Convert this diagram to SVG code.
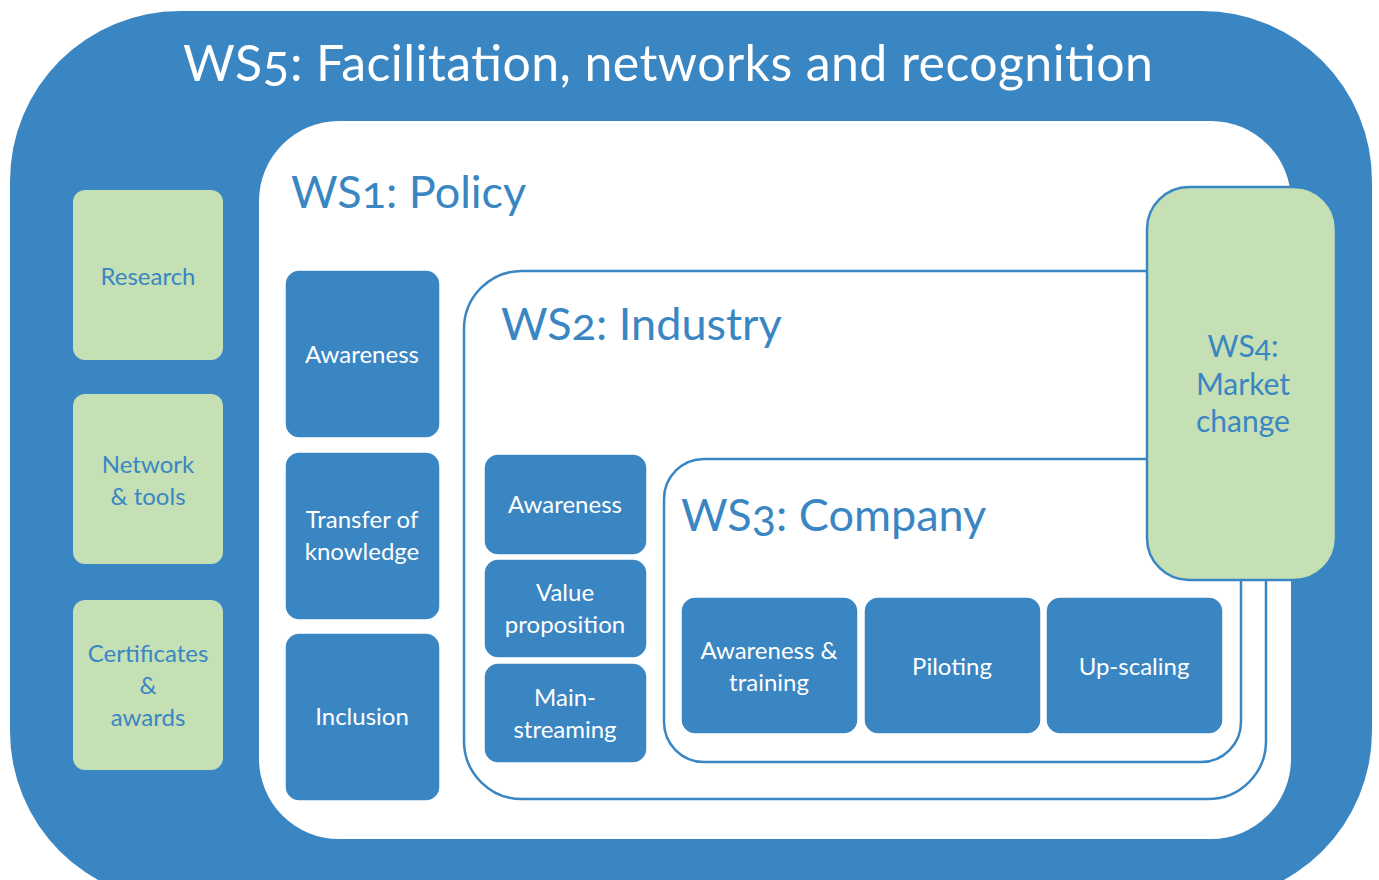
<svg xmlns="http://www.w3.org/2000/svg" width="1379" height="880" viewBox="0 0 1379 880">
<style>
text{font-family:Lato,"Open Sans","Liberation Sans",sans-serif;font-variant-numeric:oldstyle-nums;font-feature-settings:"onum" 1}
.blue{fill:#3a86c3}
.bbox{fill:#3a86c3;stroke:#ffffff;stroke-width:1.5}
.gbox{fill:#c4e0b4}
.wt{fill:#ffffff;font-size:24px;text-anchor:middle}
.gt{fill:#3a86c3;font-size:24px;text-anchor:middle}
.head{fill:#3a86c3;font-size:45px}
.frame{fill:#ffffff;stroke:#3a86c3;stroke-width:2.5}
</style>
<rect width="1379" height="880" fill="#ffffff"/>
<g id="ws5">
<rect x="10" y="11" width="1362" height="890" rx="170" ry="170" class="blue"/>
<text x="668" y="81" fill="#ffffff" font-size="50" text-anchor="middle" textLength="970" lengthAdjust="spacing">WS5: Facilitation, networks and recognition</text>
</g>
<g id="ws1">
<rect x="259" y="121" width="1032" height="718" rx="80" ry="80" fill="#ffffff"/>
<text x="291" y="208" class="head">WS1: Policy</text>
</g>
<g id="ws2">
<rect x="464" y="271" width="802" height="528" rx="58" ry="58" class="frame"/>
<text x="501" y="340" class="head">WS2: Industry</text>
</g>
<g id="ws3">
<rect x="664" y="459" width="577" height="303" rx="40" ry="40" class="frame"/>
<text x="681" y="531" class="head">WS3: Company</text>
</g>
<g id="ws4">
<rect x="1147" y="187" width="189" height="393" rx="42" ry="42" fill="#c4e0b4" stroke="#3a86c3" stroke-width="2.5"/>
<text class="gt" x="1243" y="357" style="font-size:30px">WS4:</text>
<text class="gt" x="1243" y="395" style="font-size:30px">Market</text>
<text class="gt" x="1243" y="432" style="font-size:30px">change</text>
</g>
<g id="research">
<rect x="73" y="190" width="150" height="170" rx="12" class="gbox"/>
<text class="gt" x="148" y="285">Research</text>
</g>
<g id="network">
<rect x="73" y="394" width="150" height="170" rx="12" class="gbox"/>
<text class="gt" x="148" y="473">Network</text>
<text class="gt" x="148" y="505">&amp; tools</text>
</g>
<g id="certificates">
<rect x="73" y="600" width="150" height="170" rx="12" class="gbox"/>
<text class="gt" x="148" y="662">Certificates</text>
<text class="gt" x="148" y="694">&amp;</text>
<text class="gt" x="148" y="726">awards</text>
</g>
<g id="p-awareness">
<rect x="285" y="270" width="155" height="168" rx="14" class="bbox"/>
<text class="wt" x="362" y="363">Awareness</text>
</g>
<g id="p-transfer">
<rect x="285" y="452" width="155" height="168" rx="14" class="bbox"/>
<text class="wt" x="362" y="528">Transfer of</text>
<text class="wt" x="362" y="560">knowledge</text>
</g>
<g id="p-inclusion">
<rect x="285" y="633" width="155" height="168" rx="14" class="bbox"/>
<text class="wt" x="362" y="725">Inclusion</text>
</g>
<g id="i-awareness">
<rect x="484" y="454" width="163" height="101" rx="14" class="bbox"/>
<text class="wt" x="565" y="513">Awareness</text>
</g>
<g id="i-value">
<rect x="484" y="559" width="163" height="99" rx="14" class="bbox"/>
<text class="wt" x="565" y="601">Value</text>
<text class="wt" x="565" y="633">proposition</text>
</g>
<g id="i-main">
<rect x="484" y="663" width="163" height="100" rx="14" class="bbox"/>
<text class="wt" x="565" y="706">Main-</text>
<text class="wt" x="565" y="738">streaming</text>
</g>
<g id="c-awareness">
<rect x="681" y="597" width="177" height="137" rx="14" class="bbox"/>
<text class="wt" x="769" y="659">Awareness &amp;</text>
<text class="wt" x="769" y="691">training</text>
</g>
<g id="c-piloting">
<rect x="864" y="597" width="177" height="137" rx="14" class="bbox"/>
<text class="wt" x="952" y="675">Piloting</text>
</g>
<g id="c-upscaling">
<rect x="1046" y="597" width="177" height="137" rx="14" class="bbox"/>
<text class="wt" x="1134" y="675">Up-scaling</text>
</g>
<g id="connectors"></g>
</svg>
